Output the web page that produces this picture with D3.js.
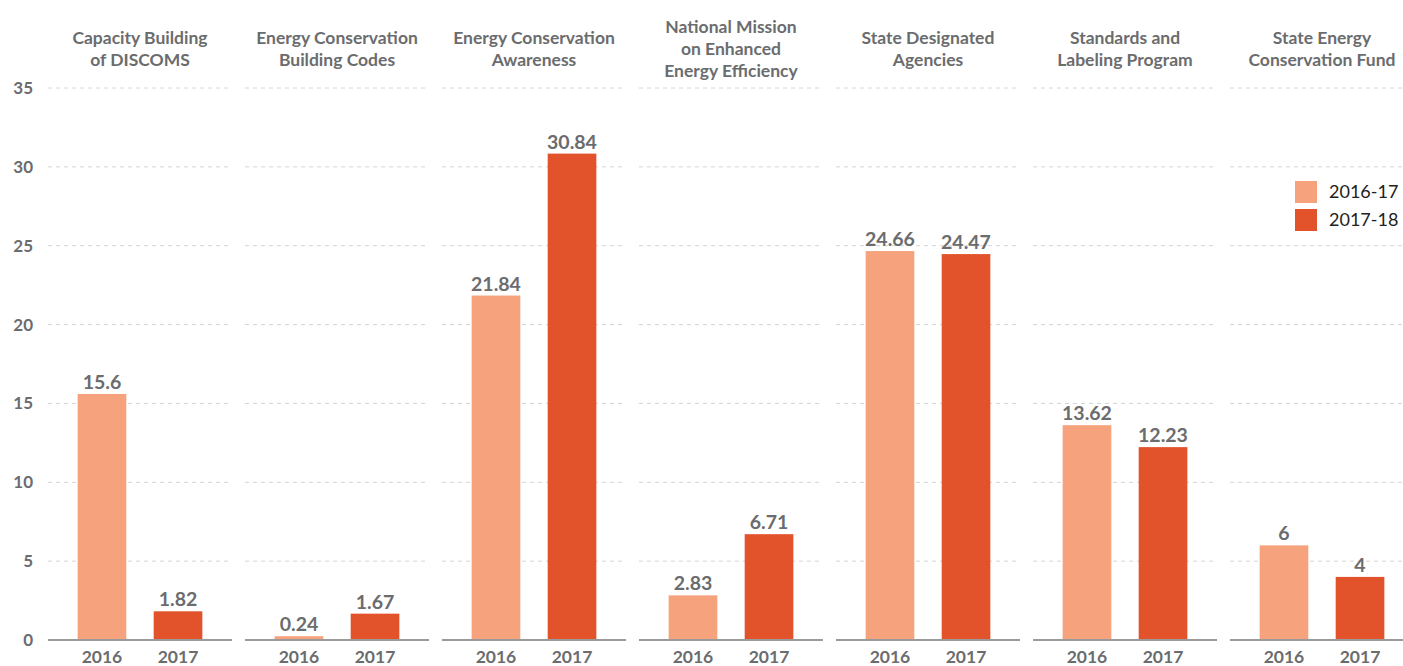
<!DOCTYPE html>
<html>
<head>
<meta charset="utf-8">
<script src="https://cdn.jsdelivr.net/npm/d3@7"></script>
<style>
  body { margin: 0; background: #fff; }
  svg { display: block; font-family: Lato, "Open Sans", sans-serif; }
</style>
</head>
<body>
<div id="chart"></div>
<script>
// panel titles (one per small multiple)
const categories = [
    ["Capacity Building", "of DISCOMS"],
    ["Energy Conservation", "Building Codes"],
    ["Energy Conservation", "Awareness"],
    ["National Mission", "on Enhanced", "Energy Efficiency"],
    ["State Designated", "Agencies"],
    ["Standards and", "Labeling Program"],
    ["State Energy", "Conservation Fund"]
];
const years = ["2016", "2017"];
const seriesNames = ["2016-17", "2017-18"];
const values2016 = [15.6, 0.24, 21.84, 2.83, 24.66, 13.62, 6];
const values2017 = [1.82, 1.67, 30.84, 6.71, 24.47, 12.23, 4];
const yTicks = [0, 5, 10, 15, 20, 25, 30, 35];

const width = 1403, height = 666;
const colors = ["#f6a27c", "#e3532b"];
const textGrey = "#6b6c6e";

const svg = d3.select("#chart").append("svg")
    .attr("width", width)
    .attr("height", height);

// cropped title descender at the very top
svg.append("text")
    .attr("x", 76).attr("y", -4)
    .attr("text-anchor", "middle")
    .attr("font-size", 22)
    .attr("font-weight", 700)
    .attr("fill", "#444")
    .text("g");

const keys = categories.map((c, i) => i);

// panels
const xPanel = d3.scaleBand()
    .domain(keys)
    .range([48, 1414])
    .paddingInner(0.066)
    .paddingOuter(0);

const xBar = d3.scaleBand()
    .domain(years)
    .range([0, xPanel.bandwidth()])
    .paddingInner(0.36)
    .paddingOuter(0.39);

const y = d3.scaleLinear()
    .domain([0, 35])
    .range([640, 88]);

// y axis labels
svg.append("g")
    .selectAll("text")
    .data(yTicks)
    .join("text")
    .attr("x", 33)
    .attr("y", d => y(d))
    .attr("dy", "0.35em")
    .attr("text-anchor", "end")
    .attr("font-size", 17)
    .attr("font-weight", 700)
    .attr("fill", textGrey)
    .text(d => d);

const panels = svg.selectAll("g.panel")
    .data(keys)
    .join("g")
    .attr("class", "panel")
    .attr("transform", d => `translate(${xPanel(d)},0)`);

panels.each(function(i) {
    const g = d3.select(this);
    const bw = xPanel.bandwidth();
    const vals = [values2016[i], values2017[i]];

    // dashed gridlines
    g.append("g")
        .selectAll("line")
        .data(yTicks.filter(t => t > 0))
        .join("line")
        .attr("x1", 0).attr("x2", bw)
        .attr("y1", d => y(d)).attr("y2", d => y(d))
        .attr("stroke", "#d4d4d4")
        .attr("stroke-width", 1)
        .attr("stroke-dasharray", "4,4");

    // bars
    g.selectAll("rect")
        .data(vals)
        .join("rect")
        .attr("x", (v, j) => xBar(years[j]))
        .attr("width", xBar.bandwidth())
        .attr("y", v => y(v))
        .attr("height", v => y(0) - y(v))
        .attr("fill", (v, j) => colors[j]);

    // value labels
    g.selectAll("text.val")
        .data(vals)
        .join("text")
        .attr("class", "val")
        .attr("x", (v, j) => xBar(years[j]) + xBar.bandwidth() / 2)
        .attr("y", v => y(v) - 5)
        .attr("text-anchor", "middle")
        .attr("font-size", 19.5)
        .attr("font-weight", 700)
        .attr("fill", textGrey)
        .text(v => v);

    // baseline
    g.append("line")
        .attr("x1", 0).attr("x2", bw)
        .attr("y1", y(0)).attr("y2", y(0))
        .attr("stroke", "#9a9a9a")
        .attr("stroke-width", 2);

    // year labels
    g.selectAll("text.yr")
        .data(years)
        .join("text")
        .attr("class", "yr")
        .attr("x", d => xBar(d) + xBar.bandwidth() / 2)
        .attr("y", 663)
        .attr("text-anchor", "middle")
        .attr("font-size", 17.5)
        .attr("font-weight", 700)
        .attr("fill", textGrey)
        .text(d => d);

    // panel title
    const lines = categories[i];
    const lh = 22;
    const y0 = 49 - (lines.length - 1) * lh / 2;
    g.append("text")
        .attr("text-anchor", "middle")
        .attr("font-size", 17.5)
        .attr("font-weight", 700)
        .attr("fill", textGrey)
        .selectAll("tspan")
        .data(lines)
        .join("tspan")
        .attr("x", bw / 2)
        .attr("y", (d, k) => y0 + k * lh)
        .attr("dy", "0.35em")
        .text(d => d);
});

// legend
const legend = svg.append("g")
    .attr("transform", "translate(1295,181)");

const items = legend.selectAll("g")
    .data(seriesNames)
    .join("g")
    .attr("transform", (d, i) => `translate(0,${i * 28})`);

items.append("rect")
    .attr("width", 22).attr("height", 22)
    .attr("fill", (d, i) => colors[i]);

items.append("text")
    .attr("x", 34).attr("y", 11)
    .attr("dy", "0.35em")
    .attr("font-size", 18)
    .attr("fill", "#222")
    .text(d => d);
</script>
</body>
</html>
